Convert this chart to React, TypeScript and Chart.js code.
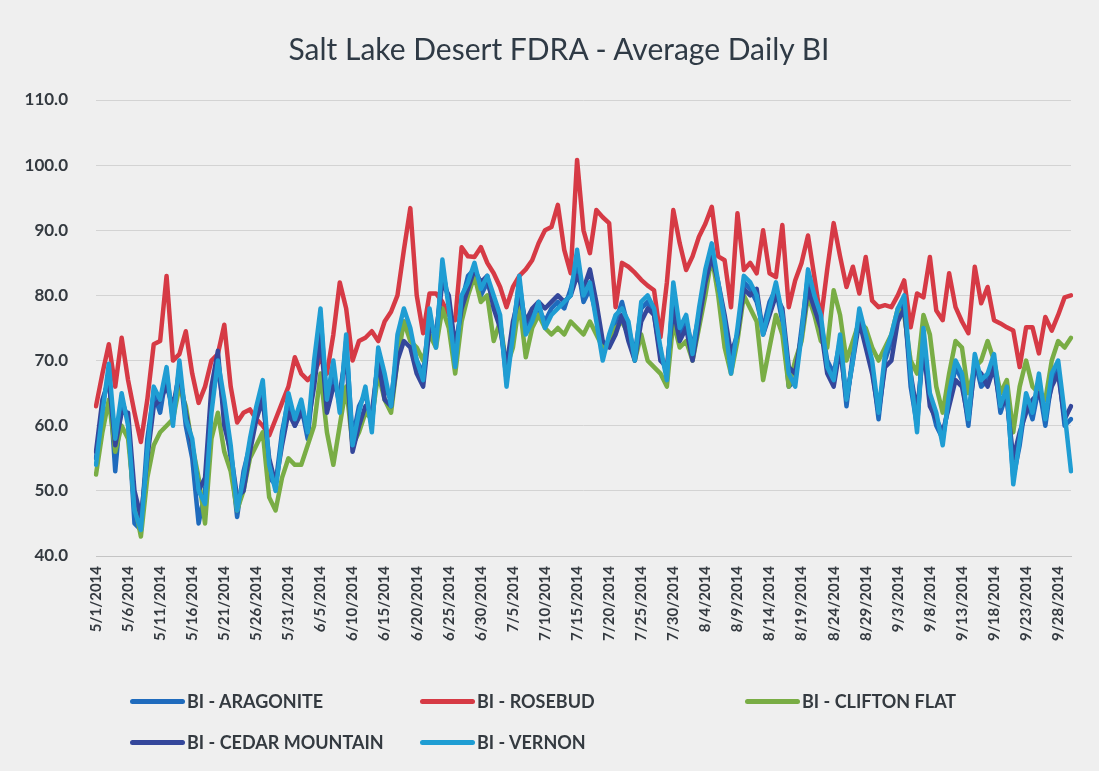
import React, { useEffect, useRef } from 'react';
import { Chart, registerables } from 'chart.js';

Chart.register(...registerables);

const TITLE = 'Salt Lake Desert FDRA - Average Daily BI';
const START_DATE = [2014, 5, 1];
const DAY_COUNT = 153;
const LABEL_EVERY = 5;
const Y_MIN = 40;
const Y_MAX = 110;
const Y_STEP = 10;

const SERIES_NAMES = ['BI - ARAGONITE', 'BI - ROSEBUD', 'BI - CLIFTON FLAT', 'BI - CEDAR MOUNTAIN', 'BI - VERNON'];

const aragonite = [
  55, 63, 68, 53, 64, 61, 45, 44, 58, 65,
  62, 68, 61, 69, 60, 55, 45, 50, 64, 69,
  62, 55, 46, 53, 57, 62, 66, 52, 51, 59,
  64, 60, 63, 58, 68, 77, 63, 68, 63, 73,
  58, 63, 65, 60, 71, 66, 64, 72, 76, 74,
  70, 68, 77, 73, 84, 79, 70, 79, 83, 84,
  80, 82, 79, 76, 67, 75, 82, 75, 77, 78,
  76, 78, 79, 78, 81, 85, 79, 81, 77, 71,
  73, 76, 79, 75, 71, 78, 79, 77, 71, 68,
  80, 74, 76, 72, 77, 83, 87, 81, 75, 69,
  74, 82, 81, 79, 75, 79, 81, 76, 66, 67,
  75, 83, 79, 76, 70, 68, 73, 63, 71, 77,
  73, 69, 61, 70, 73, 77, 79, 66, 60, 73,
  64, 60, 58, 64, 69, 67, 60, 70, 66, 67,
  70, 62, 65, 52, 57, 64, 61, 66, 60, 67,
  69, 60, 61,
];

const rosebud = [
  63, 68, 72.5, 66, 73.5, 67, 62, 57.5, 64, 72.5,
  73, 83, 70, 71, 74.5, 68, 63.5, 66, 70, 71,
  75.5, 66, 60.5, 62, 62.5, 61, 60, 58.5, 61, 63.5,
  66, 70.5, 68, 67, 68, 70.5, 68, 74, 82, 78,
  70, 73, 73.5, 74.5, 73, 76, 77.5, 80, 87, 93.4,
  80, 74.2, 80.3, 80.3, 79, 77, 76.2, 87.4, 86, 85.9,
  87.4, 85, 83.4, 81.3, 78.2, 81.3, 83, 84, 85.4, 88,
  90, 90.5, 93.9, 87, 83.4, 100.8, 90, 86.5, 93.1, 92,
  91.1, 78.2, 85, 84.4, 83.5, 82.4, 81.5, 80.8, 73.6, 82,
  93.1, 88, 83.9, 86, 89, 91, 93.6, 86, 85.4, 78.2,
  92.6, 83.9, 85, 83.4, 90, 83.4, 82.8, 90.8, 78.2, 82.3,
  85, 89.2, 82.8, 76.2, 84, 91.1, 86, 81.3, 84.4, 80.3,
  85.9, 79.2, 78.2, 78.5, 78.2, 80, 82.3, 75.1, 80.3, 79.7,
  85.9, 77.7, 76.2, 83.4, 78.2, 76, 74.2, 84.4, 78.8, 81.3,
  76.2, 75.7, 75.1, 74.6, 69, 75.1, 75.1, 71.1, 76.7, 74.6,
  77, 79.7, 80,
];

const cliftonFlat = [
  52.5, 59, 64, 56, 60, 58, 48, 43, 52, 57,
  59, 60, 61, 66, 63, 57, 52, 45, 58, 62,
  56, 53, 47, 50, 55, 57, 59, 49, 47, 52,
  55, 54, 54, 57, 60, 68, 59, 54, 60, 66,
  57, 59, 62, 61, 68, 64, 62, 70, 76, 73,
  72, 70, 74, 72, 78, 75, 68, 76, 80, 83,
  79, 80, 73, 76, 69, 72, 79, 70.5, 75, 77,
  75, 74, 75, 74, 76, 75, 74, 76, 74, 72,
  73, 75, 76, 74, 70, 74, 70, 69, 68, 66,
  76, 72, 73, 70, 75, 80, 86, 80, 72, 68,
  73, 80, 78, 76, 67, 72, 77, 74, 66, 70,
  73, 80, 77, 73, 72, 80.8, 77, 70, 73, 76,
  75, 72, 70, 72, 74, 78, 77, 70, 68, 77,
  74, 66, 62, 68, 73, 72, 65, 69, 70, 73,
  70, 65, 67, 59, 66, 70, 66, 65, 64, 70,
  73, 72, 73.5,
];

const cedarMountain = [
  56, 64, 67, 57, 62, 62, 50, 46, 55, 63,
  64, 66, 63, 68, 62, 57, 50, 52, 66, 71.5,
  60, 56, 49, 50, 56, 61, 64, 55, 51, 57,
  62, 60, 62, 60, 66, 74, 62, 66, 65, 71,
  56, 60, 63, 62, 70, 64, 63, 70, 73, 72,
  68, 66, 75, 74, 82, 80, 72, 78, 81, 84,
  82, 83, 78, 75, 69, 76, 80, 76, 78, 79,
  78, 79, 80, 79, 80, 83, 81, 84, 79, 73,
  72, 74, 77, 73, 70, 76, 78, 77, 70, 69,
  78, 73, 75, 70, 76, 82, 86, 82, 77, 71,
  74, 81, 80, 81, 74, 77, 80, 78, 69, 68,
  74, 81, 78, 75, 68, 66, 72, 64, 70, 76,
  72, 68, 62, 69, 70, 76, 78, 68, 62, 72,
  63, 61, 59, 63, 67, 66, 61, 69, 68, 66,
  69, 63, 64, 55, 59, 62, 64, 65, 62, 66,
  68, 61, 63,
];

const vernon = [
  54, 62, 69.5, 58, 65, 60, 47, 44, 56, 66,
  64, 69, 60, 70, 61, 58, 50, 48, 62, 70,
  64, 57, 47, 52, 58, 63, 67, 54, 50, 58,
  65, 61, 64, 59, 70, 78, 64, 70, 62, 74,
  57, 62, 66, 59, 72, 68, 63, 74, 78, 75,
  70, 67, 78, 72, 85.5, 78, 69, 80, 82, 85,
  81, 83, 80, 77, 66, 74, 83, 74, 76, 79,
  75, 77, 78, 79, 80, 87, 80, 82, 76, 70,
  74, 77, 78, 76, 70, 79, 80, 78, 72, 67,
  82, 75, 77, 71, 78, 84, 88, 82, 76, 68,
  75, 83, 82, 80, 74, 78, 82, 77, 68, 66,
  74, 84, 80, 77, 69, 67, 74, 64, 70, 78,
  74, 70, 62, 71, 74, 78, 80, 68, 59, 75,
  65, 62, 57, 65, 70, 68, 61, 71, 67, 68,
  71, 63, 66, 51, 58, 65, 62, 68, 61, 68,
  70, 62, 53,
];

const SERIES_VALUES = [aragonite, rosebud, cliftonFlat, cedarMountain, vernon];
const SERIES_COLORS = ['#1f6bbd', '#d63a45', '#79ad45', '#34479b', '#1f9dd3'];
// Excel draws later series on top; in Chart.js lower order is drawn on top.
const SERIES_ORDER = [4, 3, 2, 1, 0];

function buildDateLabels(): string[] {
  const out: string[] = [];
  const [y, m, d] = START_DATE;
  for (let i = 0; i < DAY_COUNT; i++) {
    const dt = new Date(Date.UTC(y, m - 1, d + i));
    out.push(`${dt.getUTCMonth() + 1}/${dt.getUTCDate()}/${dt.getUTCFullYear()}`);
  }
  return out;
}

const dateLabels = buildDateLabels();

const FONT = 'Lato, "Open Sans", "DejaVu Sans", sans-serif';
const BG = '#efefef';
const TEXT = '#343a40';

const legendLayout = [
  { left: 130, top: 690 },
  { left: 420, top: 690 },
  { left: 745, top: 690 },
  { left: 130, top: 731 },
  { left: 420, top: 731 },
];

export default function App() {
  const canvasRef = useRef<HTMLCanvasElement | null>(null);

  useEffect(() => {
    if (!canvasRef.current) return;
    const chart = new Chart(canvasRef.current, {
      type: 'line',
      data: {
        labels: dateLabels,
        datasets: SERIES_NAMES.map((name, i) => ({
          label: name,
          data: SERIES_VALUES[i],
          borderColor: SERIES_COLORS[i],
          backgroundColor: SERIES_COLORS[i],
          borderWidth: 4.5,
          pointRadius: 0,
          tension: 0,
          fill: false,
          order: SERIES_ORDER[i],
          borderJoinStyle: 'round',
          borderCapStyle: 'round',
        })),
      },
      options: {
        responsive: false,
        animation: false,
        layout: { padding: { left: 4, right: 14, top: 100, bottom: 115 } },
        plugins: {
          legend: { display: false },
          tooltip: { enabled: false },
          title: { display: false },
        },
        scales: {
          x: {
            type: 'category',
            offset: false,
            grid: { display: false, drawTicks: false },
            border: { display: true, color: '#c4c4c4', width: 1 },
            ticks: {
              autoSkip: false,
              minRotation: 90,
              maxRotation: 90,
              padding: 10,
              color: TEXT,
              font: { family: FONT, size: 15, weight: 'bold' },
              callback: (_v: any, i: number) => (i % LABEL_EVERY === 0 ? dateLabels[i] : ''),
            },
            afterFit: (s: any) => {
              s.height = 100;
            },
          },
          y: {
            min: Y_MIN,
            max: Y_MAX,
            grid: { color: '#d3d3d3', drawTicks: false, lineWidth: 1 },
            border: { display: false },
            ticks: {
              stepSize: Y_STEP,
              padding: 28,
              color: TEXT,
              font: { family: FONT, size: 17, weight: 'bold' },
              callback: (v: any) => Number(v).toFixed(1),
            },
            afterFit: (s: any) => {
              s.width = 92;
            },
          },
        },
      },
    });
    return () => chart.destroy();
  }, []);

  return (
    <div
      style={{
        position: 'absolute',
        left: 0,
        top: 0,
        width: 1099,
        height: 771,
        background: BG,
        overflow: 'hidden',
      }}
    >
      <canvas ref={canvasRef} width={1099} height={771} style={{ display: 'block', width: 1099, height: 771 }} />
      <div
        style={{
          position: 'absolute',
          left: 209,
          width: 700,
          top: 29,
          height: 38,
          lineHeight: '38px',
          textAlign: 'center',
          fontFamily: FONT,
          fontSize: 30,
          color: '#2f3a45',
          whiteSpace: 'nowrap',
        }}
      >
        {TITLE}
      </div>
      {SERIES_NAMES.map((name, i) => (
        <div
          key={name}
          style={{
            position: 'absolute',
            left: legendLayout[i].left,
            top: legendLayout[i].top,
            height: 22,
            display: 'flex',
            alignItems: 'center',
            fontFamily: FONT,
            fontSize: 18,
            fontWeight: 'bold',
            color: TEXT,
            whiteSpace: 'nowrap',
          }}
        >
          <span
            style={{
              display: 'inline-block',
              width: 55,
              height: 5,
              borderRadius: 3,
              background: SERIES_COLORS[i],
              marginRight: 2,
            }}
          />
          <span>{name}</span>
        </div>
      ))}
    </div>
  );
}
